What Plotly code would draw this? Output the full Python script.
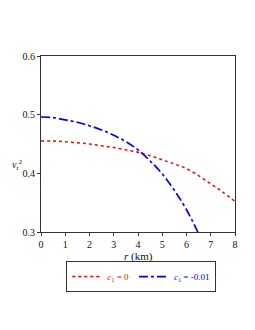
import plotly.graph_objects as go

r_red = [0, 0.5, 1, 1.5, 2, 2.5, 3, 3.5, 4, 4.5, 5, 5.5, 6, 6.5, 7, 7.5, 8]
v_red = [0.455, 0.455, 0.454, 0.452, 0.450, 0.447, 0.444, 0.440, 0.436, 0.430,
         0.423, 0.416, 0.408, 0.396, 0.382, 0.368, 0.352]

r_blue = [0, 0.5, 1, 1.5, 2, 2.5, 3, 3.5, 4, 4.5, 5, 5.5, 6, 6.5]
v_blue = [0.496, 0.495, 0.491, 0.487, 0.481, 0.474, 0.465, 0.454, 0.440, 0.421,
          0.399, 0.371, 0.338, 0.297]

x_ticks = [0, 1, 2, 3, 4, 5, 6, 7, 8]
y_ticks = [0.3, 0.4, 0.5, 0.6]

FONT = "Liberation Serif"

fig = go.Figure()
fig.add_trace(go.Scatter(
    x=r_red, y=v_red, mode="lines", line=dict(color="#ff0000", width=1.5, dash="dot", shape="spline"),
    name="<span style='color:#ff0000'><i>c</i><sub>1</sub> = 0</span>"))
fig.add_trace(go.Scatter(
    x=r_blue, y=v_blue, mode="lines", line=dict(color="#0000ff", width=1.7, dash="dashdot", shape="spline"),
    name="<span style='color:#0000ff'><i>c</i><sub>1</sub> = -0.01</span>"))

axis_common = dict(showline=True, linecolor="#333", linewidth=1, mirror=True, ticks="outside",
                   ticklen=3, tickcolor="#333", showgrid=False, zeroline=False, automargin=False,
                   tickfont=dict(family=FONT, size=10, color="#111"))

fig.update_layout(
    width=255, height=330,
    margin=dict(l=33, r=28, t=48, b=106),
    paper_bgcolor="white", plot_bgcolor="white",
    font=dict(family=FONT, size=10, color="#111"),
    xaxis=dict(range=[0, 8], tickvals=x_ticks, title=None, **axis_common),
    yaxis=dict(range=[0.3, 0.6], tickvals=y_ticks, tickformat=".1f", title=None, **axis_common),
    showlegend=True,
    legend=dict(orientation="h", x=0.13, y=-0.165, xanchor="left", yanchor="top",
                bordercolor="#333", borderwidth=1, itemwidth=30,
                font=dict(family=FONT, size=9), tracegroupgap=0),
    annotations=[
        dict(text="<i>v</i><sub>r</sub><sup>2</sup>", xref="paper", yref="paper",
             x=-0.08, y=0.38, xanchor="right", yanchor="middle", showarrow=False,
             font=dict(family=FONT, size=10, color="#111")),
        dict(text="<i>r</i> (km)", xref="paper", yref="paper",
             x=0.5, y=-0.14, xanchor="center", yanchor="middle", showarrow=False,
             font=dict(family=FONT, size=11, color="#111")),
    ],
)

fig.write_html("out.html")
